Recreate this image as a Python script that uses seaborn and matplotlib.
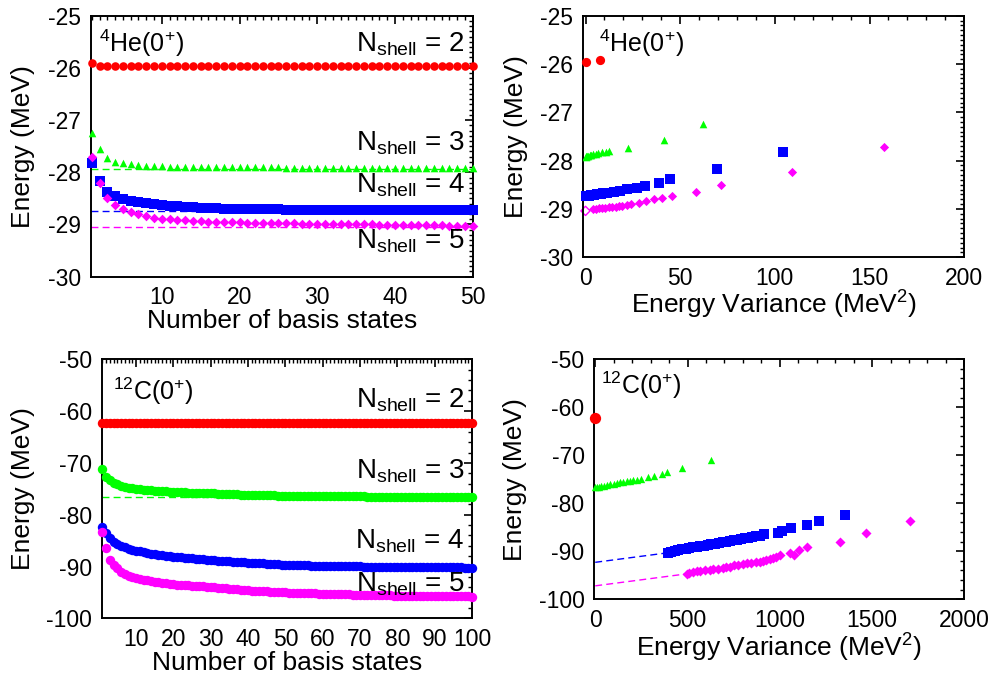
import numpy as np
import pandas as pd
import matplotlib
matplotlib.use("Agg")
import matplotlib.pyplot as plt
from matplotlib.ticker import MultipleLocator
import seaborn as sns

# ---------------- data: 4He, energy vs number of basis states ----------------
he_n = list(range(1, 51))
he_e2 = [-25.91] + [-25.96] * 49
he_e3 = [-27.24, -27.55, -27.72, -27.80, -27.82, -27.84, -27.86, -27.87, -27.88, -27.885,
         -27.89, -27.89, -27.895, -27.895, -27.90, -27.90, -27.90, -27.90, -27.905, -27.905,
         -27.905, -27.905, -27.905, -27.905, -27.905, -27.91, -27.91, -27.91, -27.91, -27.91,
         -27.91, -27.91, -27.91, -27.91, -27.91, -27.91, -27.91, -27.91, -27.91, -27.91,
         -27.91, -27.91, -27.91, -27.91, -27.91, -27.91, -27.91, -27.91, -27.91, -27.91]
he_e4 = [-27.82, -28.17, -28.37, -28.45, -28.51, -28.55, -28.57, -28.59, -28.61, -28.63,
         -28.64, -28.65, -28.66, -28.67, -28.68, -28.685, -28.69, -28.695, -28.70, -28.70,
         -28.705, -28.705, -28.71, -28.71, -28.71, -28.715, -28.715, -28.72, -28.72, -28.72,
         -28.72, -28.72, -28.72, -28.72, -28.72, -28.725, -28.725, -28.725, -28.725, -28.725,
         -28.73, -28.73, -28.73, -28.73, -28.73, -28.73, -28.73, -28.73, -28.73, -28.73]
he_e5 = [-27.70, -28.21, -28.50, -28.63, -28.71, -28.76, -28.80, -28.84, -28.87, -28.89,
         -28.90, -28.91, -28.92, -28.93, -28.94, -28.945, -28.95, -28.955, -28.96, -28.96,
         -28.965, -28.97, -28.97, -28.975, -28.975, -28.98, -28.98, -28.985, -28.985, -28.99,
         -28.99, -28.99, -28.995, -28.995, -29.00, -29.00, -29.00, -29.005, -29.005, -29.01,
         -29.01, -29.01, -29.01, -29.015, -29.015, -29.015, -29.02, -29.02, -29.02, -29.02]
he_extrap = [-27.93, -28.75, -29.04]   # N_shell = 3, 4, 5

# ---------------- data: 4He, energy vs energy variance ----------------
he_v2 = [0.0, 7.5]
he_ve2 = [-25.96, -25.91]
he_v3 = [62.0, 41.7, 22.6, 12.5, 10.7, 8.8, 6.5, 5.3, 4.0, 3.0, 2.2, 1.4, 0.8, 0.3, 0.0]
he_ve3 = [-27.24, -27.57, -27.73, -27.81, -27.82, -27.83, -27.845, -27.855, -27.865, -27.875,
          -27.885, -27.895, -27.905, -27.91, -27.92]
he_v4 = [104.4, 69.6, 44.4, 38.6, 31.2, 27.0, 21.7, 18.3, 15.1, 11.6, 9.5, 8.0, 6.2, 4.6,
         3.0, 2.0, 1.0, 0.3]
he_ve4 = [-27.83, -28.18, -28.39, -28.47, -28.53, -28.57, -28.59, -28.62, -28.64, -28.66,
          -28.675, -28.69, -28.70, -28.71, -28.72, -28.725, -28.73, -28.74]
he_v5 = [157.7, 109.0, 71.4, 58.3, 45.8, 40.2, 36.2, 31.9, 28.3, 24.0, 22.1, 19.5, 17.5,
         15.9, 14.0, 12.5, 10.5, 8.9, 7.0, 5.4, 3.7]
he_ve5 = [-27.71, -28.24, -28.51, -28.64, -28.73, -28.78, -28.80, -28.84, -28.87, -28.89,
          -28.91, -28.93, -28.94, -28.95, -28.955, -28.96, -28.97, -28.98, -28.99, -29.00, -29.01]
he_v5_extrap = [0.0]
he_ve5_extrap = [-29.04]

# ---------------- data: 12C, energy vs number of basis states ----------------
c_n = list(range(1, 101))
c_e2 = [-62.2] + [-62.35] * 99
c_e3 = [-71.2, -72.8, -73.3, -73.8, -74.1, -74.4, -74.6, -74.75, -74.9, -75.0,
        -75.1, -75.2, -75.25, -75.3, -75.4, -75.45, -75.5, -75.5, -75.55, -75.6,
        -75.65, -75.7, -75.7, -75.75, -75.75, -75.8, -75.8, -75.85, -75.85, -75.9,
        -75.9, -75.95, -75.95, -76.0, -76.0, -76.05, -76.05, -76.1, -76.1, -76.15,
        -76.15, -76.2, -76.2, -76.2, -76.25, -76.25, -76.25, -76.3, -76.3, -76.3,
        -76.3, -76.35, -76.35, -76.35, -76.35, -76.4, -76.4, -76.4, -76.4, -76.4,
        -76.4, -76.4, -76.45, -76.45, -76.45, -76.45, -76.45, -76.45, -76.45, -76.45,
        -76.45, -76.5, -76.5, -76.5, -76.5, -76.5, -76.5, -76.5, -76.5, -76.5,
        -76.5, -76.5, -76.5, -76.5, -76.5, -76.5, -76.5, -76.5, -76.5, -76.5,
        -76.5, -76.5, -76.5, -76.55, -76.55, -76.55, -76.55, -76.55, -76.55, -76.55]
c_e4 = [-82.3, -83.6, -84.55, -85.2, -85.65, -86.0, -86.3, -86.55, -86.75, -86.95,
        -87.1, -87.2, -87.35, -87.5, -87.6, -87.7, -87.8, -87.9, -88.0, -88.1,
        -88.15, -88.2, -88.3, -88.35, -88.4, -88.5, -88.55, -88.6, -88.7, -88.75,
        -88.8, -88.85, -88.9, -88.95, -89.0, -89.05, -89.1, -89.15, -89.2, -89.25,
        -89.3, -89.3, -89.35, -89.4, -89.45, -89.5, -89.55, -89.6, -89.65, -89.7,
        -89.7, -89.72, -89.74, -89.76, -89.78, -89.8, -89.82, -89.84, -89.86, -89.88,
        -89.9, -89.91, -89.92, -89.93, -89.94, -89.95, -89.96, -89.97, -89.98, -89.99,
        -90.0, -90.01, -90.02, -90.03, -90.04, -90.05, -90.06, -90.07, -90.08, -90.09,
        -90.1, -90.1, -90.11, -90.12, -90.13, -90.14, -90.14, -90.15, -90.15, -90.16,
        -90.16, -90.17, -90.17, -90.18, -90.18, -90.19, -90.19, -90.2, -90.2, -90.2]
c_e5 = [-83.4, -86.5, -88.75, -89.7, -90.35, -91.0, -91.45, -91.8, -92.05, -92.3,
        -92.45, -92.6, -92.7, -92.8, -92.9, -93.0, -93.1, -93.2, -93.3, -93.45,
        -93.5, -93.55, -93.6, -93.65, -93.7, -93.75, -93.8, -93.85, -93.9, -94.0,
        -94.05, -94.1, -94.15, -94.2, -94.3, -94.35, -94.4, -94.5, -94.55, -94.6,
        -94.65, -94.7, -94.72, -94.75, -94.8, -94.85, -94.88, -94.92, -94.96, -95.0,
        -95.02, -95.05, -95.08, -95.1, -95.12, -95.15, -95.18, -95.2, -95.22, -95.25,
        -95.27, -95.3, -95.32, -95.34, -95.36, -95.38, -95.4, -95.42, -95.44, -95.46,
        -95.48, -95.5, -95.52, -95.53, -95.55, -95.56, -95.58, -95.59, -95.6, -95.62,
        -95.63, -95.64, -95.65, -95.66, -95.67, -95.68, -95.69, -95.7, -95.71, -95.72,
        -95.73, -95.74, -95.74, -95.75, -95.76, -95.77, -95.78, -95.78, -95.79, -95.8]
c_extrap3 = [-76.65]

# ---------------- data: 12C, energy vs energy variance ----------------
c_v2 = [0.0]
c_ve2 = [-62.3]
c_v3 = [625, 470, 391, 364, 317, 285, 249, 225, 205, 189, 170, 153, 135, 117, 100, 81,
        63, 45, 30, 18, 8, 0]
c_ve3 = [-70.98, -72.7, -73.5, -73.8, -74.25, -74.5, -74.9, -75.1, -75.2, -75.3, -75.4,
         -75.5, -75.65, -75.8, -75.9, -76.0, -76.15, -76.3, -76.45, -76.6, -76.65, -76.7]
c_v4 = [1353, 1213, 1148, 1061, 1012, 988, 914, 892, 870, 850, 830, 810, 790, 770, 750,
        730, 710, 690, 670, 650, 630, 610, 590, 570, 550, 530, 510, 490, 470, 450, 430,
        410, 396]
c_ve4 = [-82.5, -83.75, -84.6, -85.15, -85.8, -86.25, -86.5, -86.8, -86.9, -87.05, -87.15,
         -87.3, -87.45, -87.6, -87.75, -87.9, -88.05, -88.15, -88.3, -88.45, -88.55, -88.7,
         -88.8, -88.95, -89.1, -89.2, -89.35, -89.45, -89.6, -89.7, -89.9, -90.1, -90.3]
c_v5 = [1708, 1465, 1328, 1150, 1103, 1078, 1058, 1000, 982, 964, 945, 928, 910, 892, 870,
        845, 820, 800, 775, 750, 730, 710, 690, 665, 640, 620, 595, 570, 550, 530, 510, 496]
c_ve5 = [-83.6, -86.2, -88.0, -89.1, -89.8, -90.7, -90.3, -90.8, -91.1, -91.5, -91.65,
         -91.8, -92.0, -92.2, -92.3, -92.4, -92.5, -92.65, -92.8, -92.95, -93.2, -93.3,
         -93.45, -93.6, -93.7, -93.8, -93.9, -94.05, -94.1, -94.3, -94.5, -94.7]
c_fit4_v = [0, 396]
c_fit4_e = [-92.3, -90.3]
c_fit5_v = [0, 496]
c_fit5_e = [-97.2, -94.7]

# ---------------- style ----------------
sns.set_style("white")
plt.rcParams["font.family"] = ["Liberation Sans", "DejaVu Sans"]
plt.rcParams["axes.linewidth"] = 1.4
plt.rcParams["axes.unicode_minus"] = False
plt.rcParams["text.color"] = "black"
plt.rcParams["axes.labelcolor"] = "black"
plt.rcParams["xtick.color"] = "black"
plt.rcParams["ytick.color"] = "black"

RED, GREEN, BLUE, MAG = "#ff0000", "#00ff00", "#0000ff", "#ff00ff"
TICK_FS = 16.5
LAB_FS = 19
NS_FS = 20
NUC_FS = 18

fig = plt.figure(figsize=(9.96, 6.79), dpi=100)
ax_tl = fig.add_axes([0.0911, 0.5925, 0.3835, 0.3844])
ax_tr = fig.add_axes([0.5850, 0.6211, 0.3831, 0.3558])
ax_bl = fig.add_axes([0.1021, 0.0894, 0.3718, 0.3814])
ax_br = fig.add_axes([0.5967, 0.1174, 0.3715, 0.3535])


def style_axis(ax, xmaj, xmin, ymaj, ymin):
    ax.xaxis.set_major_locator(MultipleLocator(xmaj))
    ax.xaxis.set_minor_locator(MultipleLocator(xmin))
    ax.yaxis.set_major_locator(MultipleLocator(ymaj))
    ax.yaxis.set_minor_locator(MultipleLocator(ymin))
    ax.tick_params(which="both", direction="in", top=True, right=True,
                   colors="black", labelcolor="black", labelsize=TICK_FS, pad=7)
    ax.tick_params(which="major", length=6, width=1.2)
    ax.tick_params(which="minor", length=3, width=1.0)
    for s in ax.spines.values():
        s.set_color("black")
        s.set_linewidth(1.4)


def scat(ax, x, y, marker, s, color, **kw):
    sns.scatterplot(x=x, y=y, marker=marker, s=s, color=color, linewidth=0,
                    ax=ax, clip_on=False, zorder=3, legend=False, **kw)


def labels(ax, xlabel, xlab_y, ylab_x):
    ax.set_xlabel(xlabel, fontsize=LAB_FS, color="black")
    ax.set_ylabel("Energy (MeV)", fontsize=LAB_FS, color="black")
    ax.xaxis.label.set_va("center")
    ax.yaxis.label.set_va("center")
    ax.xaxis.set_label_coords(0.5, xlab_y)
    ax.yaxis.set_label_coords(ylab_x, 0.5)


def nshell(ax, k, ypos):
    ax.text(0.98, ypos, r"N$\mathregular{_{shell}}$ = %d" % k, transform=ax.transAxes,
            ha="right", va="baseline", fontsize=NS_FS, color="black")


def nucleus(ax, txt, x, y):
    ax.text(x, y, txt, transform=ax.transAxes, ha="left", va="baseline",
            fontsize=NUC_FS, color="black")


# ---------- top-left ----------
ax = ax_tl
for val, col in zip(he_extrap, [GREEN, BLUE, MAG]):
    ax.axhline(val, color=col, lw=1.0, ls=(0, (5, 3)), zorder=1)
scat(ax, he_n, he_e2, "o", 38, RED)
scat(ax, he_n, he_e3, "^", 30, GREEN)
scat(ax, he_n, he_e4, "s", 46, BLUE)
scat(ax, he_n, he_e5, "D", 24, MAG)
ax.set_xlim(0.86, 50)
ax.set_ylim(-30, -25)
style_axis(ax, 10, 1, 1, 0.1)
labels(ax, "Number of basis states", -0.170, -0.177)
nucleus(ax, r"$\mathregular{^{4}}$He(0$\mathregular{^{+}}$)", 0.0225, 0.862)
nshell(ax, 2, 0.862)
nshell(ax, 3, 0.485)
nshell(ax, 4, 0.322)
nshell(ax, 5, 0.109)

# ---------- top-right ----------
ax = ax_tr
sns.scatterplot(x=he_v5_extrap, y=he_ve5_extrap, marker="D", s=22, facecolor="none",
                edgecolor=MAG, linewidth=1.0, ax=ax, clip_on=False, zorder=2, legend=False)
scat(ax, he_v2, he_ve2, "o", 44, RED)
scat(ax, he_v3, he_ve3, "^", 30, GREEN)
scat(ax, he_v4, he_ve4, "s", 46, BLUE)
scat(ax, he_v5, he_ve5, "D", 22, MAG)
ax.set_xlim(-1.5, 200)
ax.set_ylim(-30, -25)
style_axis(ax, 50, 10, 1, 0.1)
labels(ax, r"Energy Variance (MeV$\mathregular{^{2}}$)", -0.197, -0.175)
nucleus(ax, r"$\mathregular{^{4}}$He(0$\mathregular{^{+}}$)", 0.0435, 0.851)

# ---------- bottom-left ----------
ax = ax_bl
ax.axhline(c_extrap3[0], color=GREEN, lw=1.0, ls=(0, (5, 3)), zorder=1)
scat(ax, c_n, c_e2, "o", 46, RED)
scat(ax, c_n, c_e3, "o", 46, GREEN)
scat(ax, c_n, c_e4, "o", 46, BLUE)
scat(ax, c_n, c_e5, "o", 46, MAG)
ax.set_xlim(0.8, 100)
ax.set_ylim(-100, -50)
style_axis(ax, 10, 1, 10, 2)
labels(ax, "Number of basis states", -0.173, -0.2125)
nucleus(ax, r"$\mathregular{^{12}}$C(0$\mathregular{^{+}}$)", 0.031, 0.843)
nshell(ax, 2, 0.815)
nshell(ax, 3, 0.539)
nshell(ax, 4, 0.270)
nshell(ax, 5, 0.103)

# ---------- bottom-right ----------
ax = ax_br
sns.lineplot(x=c_fit4_v, y=c_fit4_e, color=BLUE, lw=1.0, ax=ax, zorder=1)
sns.lineplot(x=c_fit5_v, y=c_fit5_e, color=MAG, lw=1.0, ax=ax, zorder=1)
for ln in ax.lines:
    ln.set_dashes((5, 3))
scat(ax, c_v2, c_ve2, "o", 66, RED)
scat(ax, c_v3, c_ve3, "^", 28, GREEN)
scat(ax, c_v4, c_ve4, "s", 48, BLUE)
scat(ax, c_v5, c_ve5, "D", 26, MAG)
ax.set_xlim(-5, 2000)
ax.set_ylim(-100, -50)
style_axis(ax, 500, 100, 10, 2)
labels(ax, r"Energy Variance (MeV$\mathregular{^{2}}$)", -0.203, -0.214)
nucleus(ax, r"$\mathregular{^{12}}$C(0$\mathregular{^{+}}$)", 0.018, 0.855)

fig.savefig("out.png", dpi=100, facecolor="white")
